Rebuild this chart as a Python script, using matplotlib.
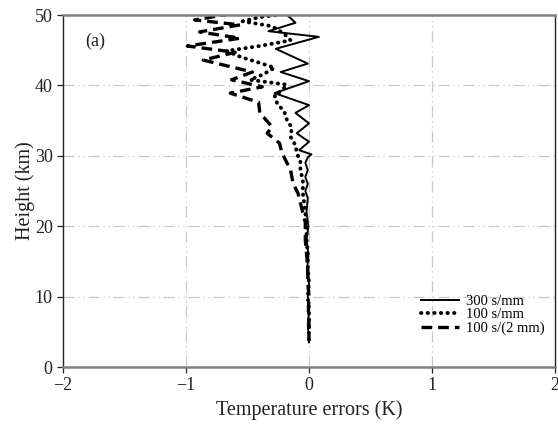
import numpy as np
import matplotlib
matplotlib.use("Agg")
import matplotlib.pyplot as plt

# 300 s/mm  (solid)
h_300 = [50.2, 48.9, 47.7, 46.9, 45.2, 43.1, 41.9, 40.6, 38.9, 37.2, 36.1, 34.6, 33.2, 32.0, 30.8,
         30.2, 29.8, 29.0, 28.0, 27.0, 26.0, 25.0, 24.0, 22.0, 20.0, 18.0, 16.0, 14.0, 12.0, 10.0,
         8.0, 6.0, 3.5]
t_300 = [-0.19, -0.11, -0.33, 0.08, -0.27, -0.01, -0.23, 0.0, -0.28, 0.0, -0.11, 0.0, -0.10, 0.0, -0.08,
         0.02, -0.01, -0.03, -0.01, -0.03, -0.01, -0.03, -0.01, -0.02, -0.005, -0.02, -0.005, -0.015, 0.0, -0.01,
         0.0, -0.01, 0.0]

# 100 s/mm  (dotted)
h_100 = [50.1, 49.7, 49.1, 48.4, 47.3, 46.4, 45.6, 44.9, 44.0, 43.2, 42.5, 41.5, 40.8, 40.1, 39.3,
         38.6, 37.5, 36.2, 35.1, 34.0, 32.7, 31.5, 30.4, 29.2, 28.0, 26.5, 24.7, 22.0, 20.0, 18.0,
         16.0, 14.0, 12.0, 10.0, 8.0, 6.0, 3.5]
t_100 = [-0.22, -0.40, -0.54, -0.30, -0.20, -0.15, -0.40, -0.67, -0.55, -0.40, -0.28, -0.38, -0.48, -0.18, -0.22,
         -0.28, -0.26, -0.20, -0.18, -0.14, -0.15, -0.11, -0.10, -0.07, -0.07, -0.05, -0.05, -0.03, -0.02, -0.02,
         -0.01, -0.01, 0.0, -0.01, 0.0, 0.0, 0.0]

# 100 s/(2 mm)  (dashed)
h_2mm = [50.2, 49.3, 48.6, 47.6, 46.7, 45.6, 44.7, 43.6, 41.9, 40.8, 39.8, 38.9, 37.6, 36.1, 34.1,
         33.2, 31.8, 30.4, 28.0, 26.1, 24.7, 22.6, 20.5, 18.0, 16.0, 14.0, 12.0, 10.0, 8.0, 6.0, 3.8]
t_2mm = [-0.63, -0.93, -0.56, -0.89, -0.56, -0.99, -0.60, -0.86, -0.46, -0.63, -0.38, -0.64, -0.41, -0.40, -0.30,
         -0.34, -0.24, -0.22, -0.15, -0.13, -0.09, -0.06, -0.03, -0.03, -0.02, -0.01, -0.01, 0.0, -0.005, 0.0, 0.0]

labels = ["300 s/mm", "100 s/mm", "100 s/(2 mm)"]

plt.rcParams['font.family'] = ['Liberation Serif', 'DejaVu Serif']

fig = plt.figure(figsize=(5.58, 4.24), dpi=100)
ax = fig.add_axes([0.113, 0.1344, 0.8816, 0.8302])

ax.plot(t_300, h_300, color='black', linestyle='-', linewidth=1.4, label=labels[0])
ax.plot(t_100, h_100, color='black', linestyle=(0, (0.1, 1.6)), linewidth=2.8,
        dash_capstyle='round', label=labels[1])
ax.plot(t_2mm, h_2mm, color='black', linestyle=(0, (3.2, 1.8)), linewidth=2.4, label=labels[2])

ax.set_xlim(-2, 2)
ax.set_ylim(0, 50)
ax.set_xticks([-2, -1, 0, 1, 2])
ax.set_yticks([0, 10, 20, 30, 40, 50])

grid_style = dict(color='#c8c8c8', linewidth=0.9, linestyle=(0, (9, 3, 1, 3, 1, 3)))
for gx in [-1, 0, 1]:
    ax.axvline(gx, zorder=0, **grid_style)
for gy in [10, 20, 30, 40]:
    ax.axhline(gy, zorder=0, **grid_style)

ax.spines['left'].set_color('#222222')
ax.spines['right'].set_color('#222222')
ax.spines['top'].set_color('#808080')
ax.spines['bottom'].set_color('#808080')
ax.spines['top'].set_linewidth(1.8)
ax.spines['bottom'].set_linewidth(1.8)
ax.spines['left'].set_linewidth(1.0)
ax.spines['right'].set_linewidth(1.0)

ax.tick_params(direction='out', length=4, width=0.9, labelsize=13, colors='#222222')

ax.set_xlabel("Temperature errors (K)", fontsize=14.5, color='#222222', labelpad=4)
ax.set_ylabel("Height (km)", fontsize=14.5, color='#222222', labelpad=0)

ax.text(-1.82, 46.2, "(a)", fontsize=13, color='#222222', va='center', ha='left')

ax.legend(loc='lower right', frameon=False, fontsize=10.5, handlelength=2.6,
          handletextpad=0.5, labelspacing=0.0, borderaxespad=0.3,
          bbox_to_anchor=(1.0, 0.062))

plt.savefig("out.png", dpi=100)
